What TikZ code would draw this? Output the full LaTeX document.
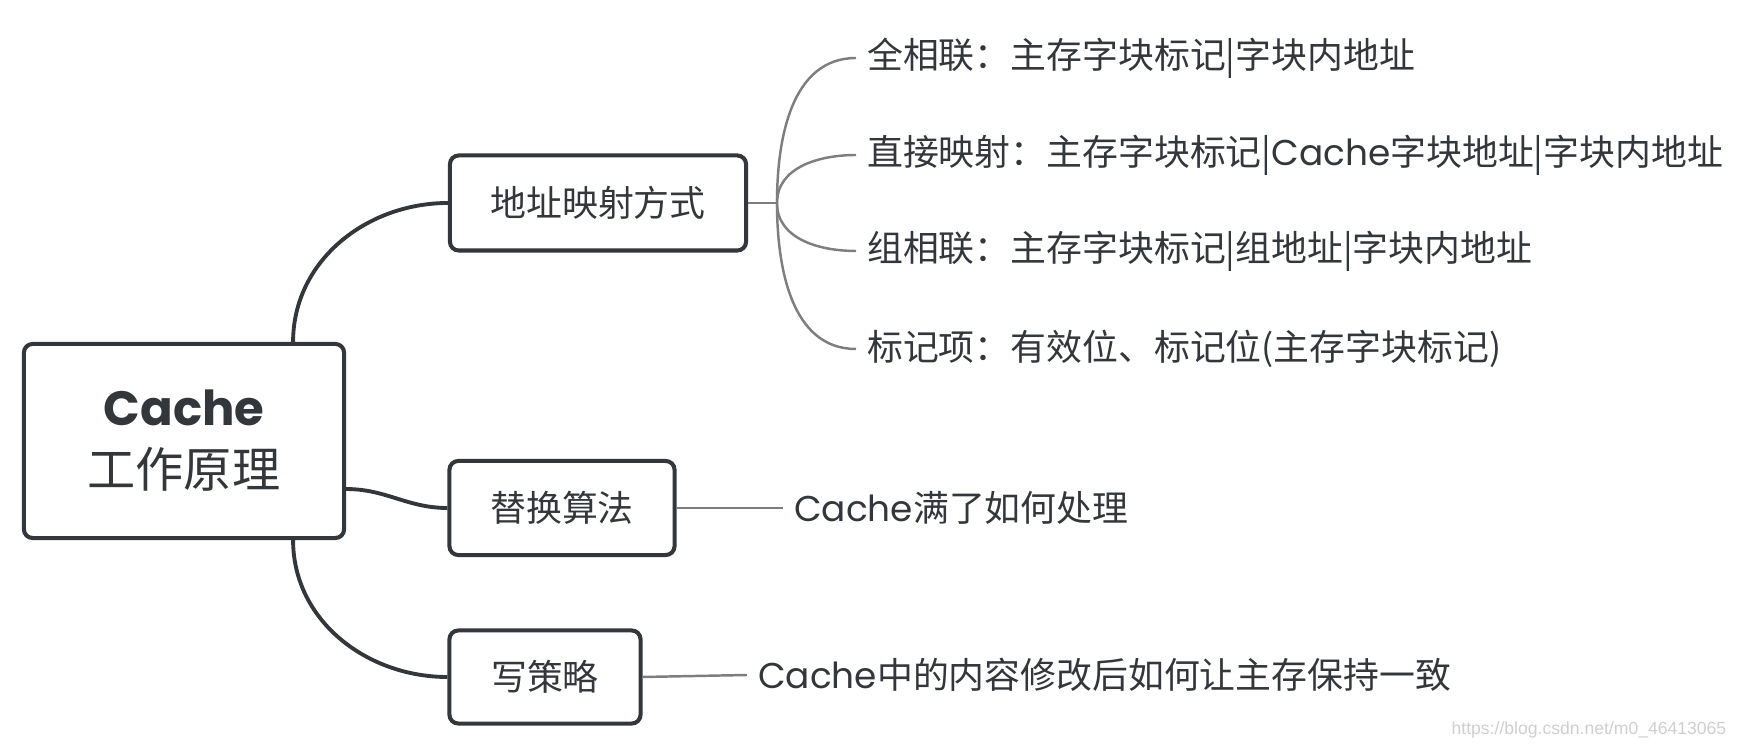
\documentclass[tikz,border=0pt]{standalone}
\usepackage{fontspec}
\setmainfont{Noto Sans CJK SC}
\newfontfamily\latfont{Poppins}
\newfontfamily\wmfont{Liberation Sans}
\usetikzlibrary{positioning}
\definecolor{inkdark}{HTML}{33363B}
\definecolor{branchgray}{HTML}{7E7E7E}
\definecolor{wmgray}{HTML}{CFCFCF}

\begin{document}
\begin{tikzpicture}[x=0.01cm, y=-0.01cm,
  topic/.style={draw=inkdark, line width=1.15pt, rounded corners=2.5pt, fill=white, text=inkdark, align=center, inner sep=0pt, font=\fontsize{10.2}{12}\selectfont},
  leaf/.style={text=inkdark, anchor=west, inner sep=3pt, font=\fontsize{10.2}{12}\selectfont},
  trunk/.style={draw=inkdark, line width=1.1pt},
  twig/.style={draw=branchgray, line width=0.7pt}]
\useasboundingbox (0,0) rectangle (1741,746);

\node[topic, minimum width=3.2cm, minimum height=1.94cm, font=\fontsize{13.7}{17.6}\selectfont] (root) at (184,441) {{\latfont\bfseries Cache}\\工作原理};
\node[topic, minimum width=2.96cm, minimum height=0.95cm] (addr) at (598,203) {地址映射方式};
\node[topic, minimum width=2.25cm, minimum height=0.94cm] (repl) at (562,508) {替换算法};
\node[topic, minimum width=1.91cm, minimum height=0.93cm] (write) at (545,677) {写策略};

\draw[trunk] ([xshift=-0.53cm]root.north east) to[out=90, in=180] (addr.west);
\draw[trunk] ([yshift=-0.48cm]root.east) to[out=0, in=180] (repl.west);
\draw[trunk] ([xshift=-0.53cm]root.south east) to[out=-90, in=180] (write.west);

\coordinate (fork) at (777,203);
\draw[twig] (addr.east) -- (fork);
\foreach \name/\y/\txt in {full/58/{全相联：主存字块标记|字块内地址},
                           direct/155/{直接映射：主存字块标记|{\latfont Cache}字块地址|字块内地址},
                           setassoc/251/{组相联：主存字块标记|组地址|字块内地址},
                           tag/349/{标记项：有效位、标记位(主存字块标记)}}
  \node[leaf] (\name) at (856,\y) {\txt};
\foreach \name/\dir in {full/90, direct/90, setassoc/-90, tag/-90}
  \draw[twig] (fork) to[out=\dir, in=180] (\name.west);

\node[leaf] (replnote) at (783,508) {{\latfont Cache}满了如何处理};
\node[leaf] (writenote) at (747,675) {{\latfont Cache}中的内容修改后如何让主存保持一致};
\draw[twig] (repl.east) -- (replnote.west);
\draw[twig] (write.east) -- (writenote.west);

\node[anchor=east, text=wmgray, inner sep=0pt, font=\wmfont\fontsize{5}{6}\selectfont] (wm) at (1727,730) {https://blog.csdn.net/m0\_46413065};
\end{tikzpicture}
\end{document}
